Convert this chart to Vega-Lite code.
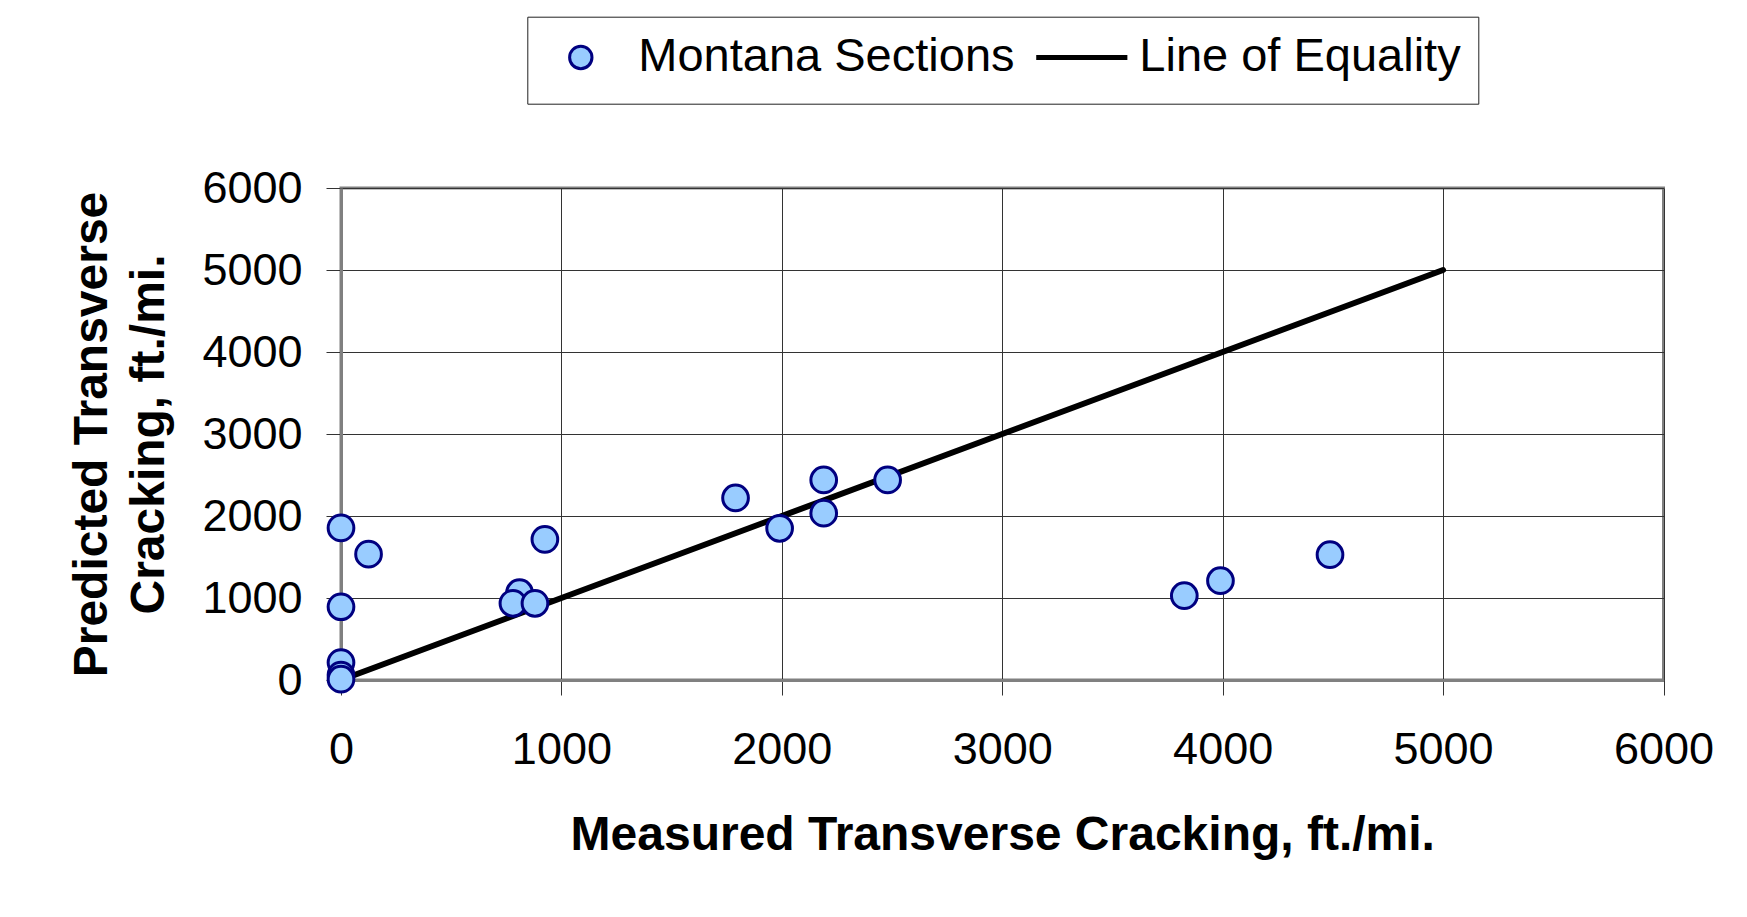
{
  "$schema": "https://vega.github.io/schema/vega-lite/v6.json",
  "autosize": {"type": "none"},
  "width": 1322.5,
  "height": 492,
  "padding": {"left": 341, "top": 188, "right": 83.5, "bottom": 237},
  "background": "white",
  "data": {
    "values": [
      {"measured": 0, "predicted": 0, "series": "Line of Equality"},
      {"measured": 5000, "predicted": 5000, "series": "Line of Equality"},
      {"measured": 0, "predicted": 1855, "series": "Montana Sections"},
      {"measured": 125, "predicted": 1535, "series": "Montana Sections"},
      {"measured": 0, "predicted": 893, "series": "Montana Sections"},
      {"measured": 0, "predicted": 212, "series": "Montana Sections"},
      {"measured": 0, "predicted": 60, "series": "Montana Sections"},
      {"measured": 0, "predicted": 10, "series": "Montana Sections"},
      {"measured": 810, "predicted": 1065, "series": "Montana Sections"},
      {"measured": 780, "predicted": 935, "series": "Montana Sections"},
      {"measured": 880, "predicted": 935, "series": "Montana Sections"},
      {"measured": 925, "predicted": 1715, "series": "Montana Sections"},
      {"measured": 1790, "predicted": 2220, "series": "Montana Sections"},
      {"measured": 1990, "predicted": 1850, "series": "Montana Sections"},
      {"measured": 2190, "predicted": 2440, "series": "Montana Sections"},
      {"measured": 2190, "predicted": 2035, "series": "Montana Sections"},
      {"measured": 2480, "predicted": 2440, "series": "Montana Sections"},
      {"measured": 3826, "predicted": 1028, "series": "Montana Sections"},
      {"measured": 3990, "predicted": 1211, "series": "Montana Sections"},
      {"measured": 4487, "predicted": 1528, "series": "Montana Sections"}
    ]
  },
  "encoding": {
    "x": {
      "field": "measured",
      "type": "quantitative",
      "scale": {"domain": [0, 6000], "nice": false, "zero": true},
      "axis": {
        "title": "Measured Transverse Cracking, ft./mi.",
        "values": [0, 1000, 2000, 3000, 4000, 5000, 6000],
        "format": "d",
        "grid": true,
        "gridColor": "#333333",
        "gridWidth": 1,
        "domainColor": "#808080",
        "domainWidth": 3,
        "tickColor": "#333333",
        "tickWidth": 1,
        "tickSize": 15,
        "labelFont": "Liberation Sans",
        "labelFontSize": 45,
        "labelColor": "#000000",
        "labelPadding": 32,
        "labelFlush": false,
        "labelOverlap": false,
        "titleFont": "Liberation Sans",
        "titleFontSize": 48,
        "titleFontWeight": "bold",
        "titleColor": "#000000",
        "titleBaseline": "top",
        "titleY": 131
      }
    },
    "y": {
      "field": "predicted",
      "type": "quantitative",
      "scale": {"domain": [0, 6000], "nice": false, "zero": true},
      "axis": {
        "title": ["Predicted Transverse", "Cracking, ft./mi."],
        "values": [0, 1000, 2000, 3000, 4000, 5000, 6000],
        "format": "d",
        "grid": true,
        "gridColor": "#333333",
        "gridWidth": 1,
        "domainColor": "#808080",
        "domainWidth": 3,
        "tickColor": "#333333",
        "tickWidth": 1,
        "tickSize": 15,
        "labelFont": "Liberation Sans",
        "labelFontSize": 45,
        "labelColor": "#000000",
        "labelPadding": 24,
        "labelFlush": false,
        "labelOverlap": false,
        "titleFont": "Liberation Sans",
        "titleFontSize": 48,
        "titleFontWeight": "bold",
        "titleColor": "#000000",
        "titleAngle": 270,
        "titleBaseline": "bottom",
        "titleAlign": "center",
        "titleLineHeight": 57,
        "titleX": -225,
        "titleY": 246
      }
    }
  },
  "layer": [
    {
      "transform": [{"filter": "datum.series === 'Line of Equality'"}],
      "mark": {"type": "line", "color": "#000000", "strokeWidth": 6, "strokeCap": "round"}
    },
    {
      "transform": [{"filter": "datum.series === 'Montana Sections'"}],
      "mark": {"type": "point", "filled": true, "size": 2440, "strokeWidth": 3, "opacity": 1, "fillOpacity": 1, "strokeOpacity": 1},
      "encoding": {
        "fill": {
          "field": "series",
          "type": "nominal",
          "scale": {"domain": ["Montana Sections", "Line of Equality"], "range": ["#99CCFF", "#000000"]},
          "legend": {"title": null}
        },
        "stroke": {
          "field": "series",
          "type": "nominal",
          "scale": {"domain": ["Montana Sections", "Line of Equality"], "range": ["#000080", "#000000"]},
          "legend": {"title": null}
        },
        "shape": {
          "field": "series",
          "type": "nominal",
          "scale": {
            "domain": ["Montana Sections", "Line of Equality"],
            "range": [
              "M0,-1.07M0,1.07M0.52,0A0.52,0.52,0,1,1,-0.52,0A0.52,0.52,0,1,1,0.52,0Z",
              "M0,-1.07M0,1.07M-2.05,-0.0465H2.05V0.0465H-2.05Z"
            ]
          },
          "legend": {"title": null}
        }
      }
    }
  ],
  "config": {
    "font": "Liberation Sans",
    "view": {"stroke": "#808080", "strokeWidth": 3},
    "legend": {
      "orient": "none",
      "legendX": 186.3,
      "legendY": -171.3,
      "direction": "horizontal",
      "padding": 17,
      "strokeColor": "#222222",
      "fillColor": "#ffffff",
      "labelFont": "Liberation Sans",
      "labelFontSize": 47,
      "labelColor": "#000000",
      "labelLimit": 1000,
      "labelOffset": 34,
      "columnPadding": 16,
      "symbolSize": 1849,
      "symbolStrokeWidth": 3,
      "symbolOffset": 13,
      "symbolOpacity": 1
    }
  }
}
